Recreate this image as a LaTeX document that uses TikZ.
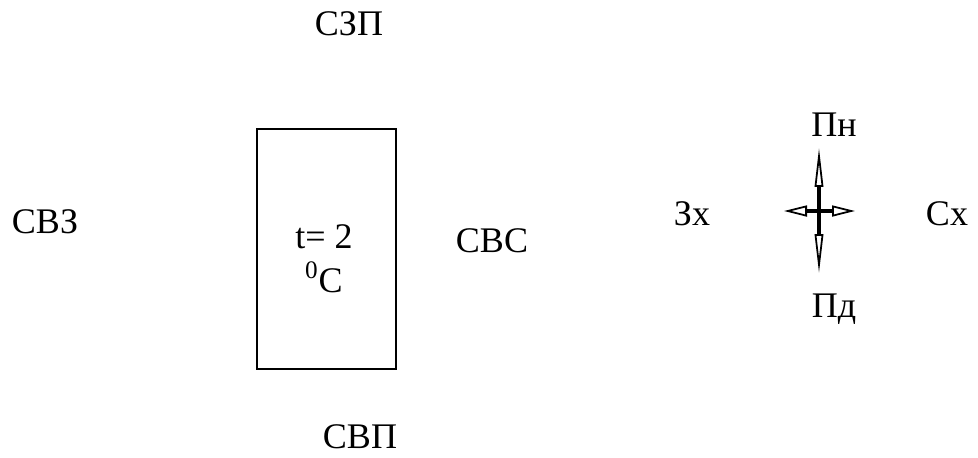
\documentclass[tikz,border=0pt]{standalone}
\usepackage{fontspec}
\setmainfont{Liberation Serif}
\usepackage{tikz}
\usetikzlibrary{arrows.meta}

\begin{document}
\begin{tikzpicture}[x=0.02cm, y=-0.02cm,
  lbl/.style={font=\fontsize{20.5}{25}\selectfont, anchor=base, inner sep=0pt},
  vert/.style={line width=1.8pt, -{Triangle[open, length=0.78cm, width=0.17cm, line width=1pt]}},
  horz/.style={line width=2.6pt, -{Triangle[open, length=0.46cm, width=0.22cm, line width=1pt]}}]

\useasboundingbox (0, 0) rectangle (978, 457);

% --- Room outline ---
\draw[line width=1pt] (257, 129) rectangle (396, 369);
\node[lbl, align=center] (temp) at (324, 292) {t= 2\\\textsuperscript{0}C};

% --- Wall labels ---
\node[lbl] (szp) at (349, 35) {СЗП};
\node[lbl] (svz) at (45, 233) {СВЗ};
\node[lbl] (svs) at (492, 252) {СВС};
\node[lbl] (svp) at (360, 448) {СВП};

% --- Orientation cross ---
\coordinate (c) at (819, 211);
\coordinate (up) at (819, 148);
\coordinate (dn) at (819, 273);
\coordinate (lt) at (784, 211);
\coordinate (rt) at (855, 211);
\draw[vert] (c) -- (up);
\draw[vert] (c) -- (dn);
\draw[horz] (c) -- (lt);
\draw[horz] (c) -- (rt);

\node[lbl] (pn) at (834, 136) {Пн};
\node[lbl] (pd) at (834, 317) {Пд};
\node[lbl] (zx) at (692, 225) {Зх};
\node[lbl] (sx) at (947, 225) {Сх};

\end{tikzpicture}
\end{document}
